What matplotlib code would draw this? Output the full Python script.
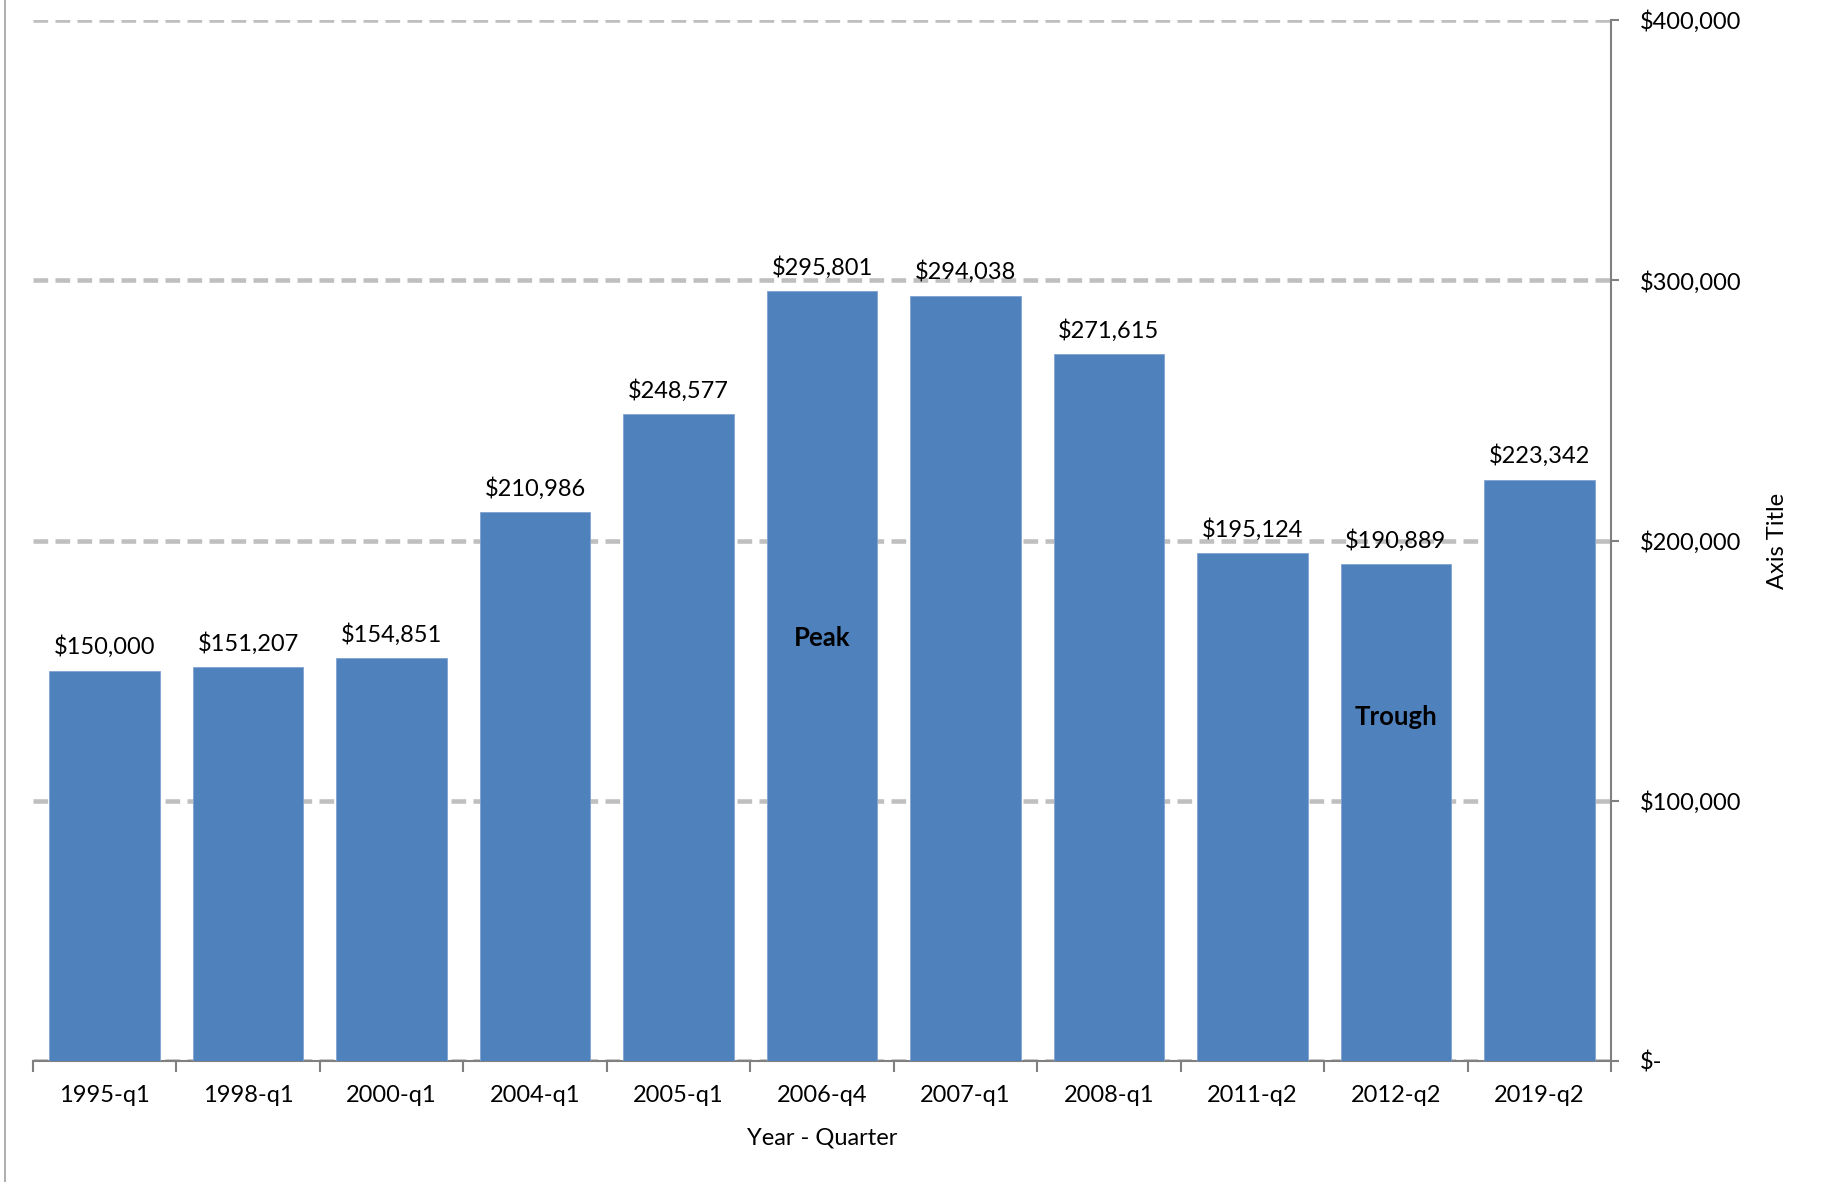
import matplotlib
matplotlib.use("Agg")
import matplotlib.pyplot as plt
from matplotlib.lines import Line2D
from matplotlib.ticker import FuncFormatter, FixedLocator, NullFormatter

categories = ["1995-q1", "1998-q1", "2000-q1", "2004-q1", "2005-q1", "2006-q4",
              "2007-q1", "2008-q1", "2011-q2", "2012-q2", "2019-q2"]
values = [150000, 151207, 154851, 210986, 248577, 295801, 294038, 271615,
          195124, 190889, 223342]
yticks = [0, 100000, 200000, 300000, 400000]
annotations = [("Peak", 5, 162500), ("Trough", 9, 132000)]

plt.rcParams['font.family'] = ['Lato', 'DejaVu Sans']

W, H = 1822, 1182
fig = plt.figure(figsize=(W / 100, H / 100), dpi=100)
left, right, bottom, top = 33, 1611, 1061, 20
ax = fig.add_axes([left / W, 1 - bottom / H, (right - left) / W, (bottom - top) / H])

x = list(range(len(categories)))
ax.bar(x, values, width=0.77, color="#4F81BD", edgecolor="#7FA3D0", linewidth=0.6, zorder=3)
ax.set_xlim(-0.5, len(categories) - 0.5)
ax.set_ylim(0, 400000)

for xi, v in zip(x, values):
    ax.annotate(f"${v:,.0f}", (xi, v), xytext=(0, 9), textcoords="offset points",
                ha="center", va="bottom", fontsize=17, color="black", zorder=4)

for txt, xi, yv in annotations:
    ax.text(xi, yv, txt, ha="center", va="center", fontsize=18.5, fontweight="bold",
            color="black", zorder=4)

# grid
ax.set_yticks(yticks)
ax.yaxis.grid(True, color="#BFBFBF", linewidth=3.3, linestyle=(0, (3.2, 1.6)), zorder=1)
ax.set_axisbelow(True)
ax.xaxis.grid(False)

def fmt(v, pos):
    return "$-" if v == 0 else f"${v:,.0f}"

ax.yaxis.set_major_formatter(FuncFormatter(fmt))
ax.yaxis.tick_right()
ax.yaxis.set_label_position("right")
ax.tick_params(axis="y", which="major", direction="out", length=6, width=1.5,
               color="#808080", labelsize=17, pad=15)
for lbl in ax.get_yticklabels():
    lbl.set_horizontalalignment("left")
ax.set_ylabel("Axis Title", fontsize=17, labelpad=18, rotation=90)

# x ticks at boundaries, labels at centers
ax.xaxis.set_major_locator(FixedLocator([i - 0.5 for i in range(len(categories) + 1)]))
ax.xaxis.set_major_formatter(NullFormatter())
ax.xaxis.set_minor_locator(FixedLocator(x))
ax.set_xticks(x, categories, minor=True)
ax.tick_params(axis="x", which="major", direction="out", length=8, width=1.5, color="#808080")
ax.tick_params(axis="x", which="minor", length=0, labelsize=17, pad=17)
ax.set_xlabel("Year - Quarter", fontsize=17, labelpad=16)

for s in ["top", "left"]:
    ax.spines[s].set_visible(False)
ax.spines["right"].set_color("#808080")
ax.spines["right"].set_linewidth(1.5)
ax.spines["bottom"].set_color("#808080")
ax.spines["bottom"].set_linewidth(1.5)

# chart frame left edge
fig.add_artist(Line2D([5 / W, 5 / W], [0, 1], color="#A0A0A0", linewidth=1.2,
                      transform=fig.transFigure))

fig.savefig("out.png", dpi=100, facecolor="white")
